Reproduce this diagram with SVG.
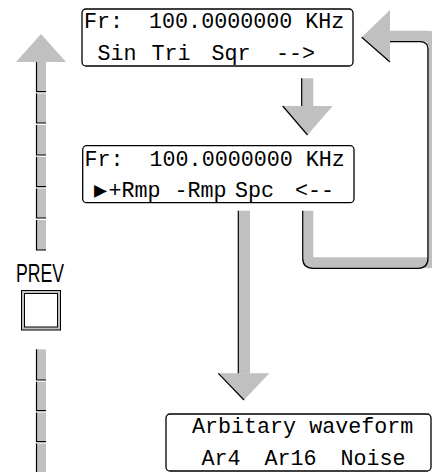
<svg xmlns="http://www.w3.org/2000/svg" width="432" height="472" viewBox="0 0 432 472">
<style>
.box{fill:#fff;stroke:#000;stroke-width:1.3}
.lcd{font-family:"Liberation Mono","DejaVu Sans Mono",monospace;font-size:21.7px;fill:#000}
.g{fill:#c0c0c0;stroke:none}
.edge{fill:none;stroke:#000;stroke-width:1.2}
.lbl{font-family:"Liberation Sans","DejaVu Sans",sans-serif;font-size:25px;fill:#000}
</style>
<rect width="432" height="472" fill="#fff"/>
<g id="connectors">
  <!-- up arrow (left) -->
  <polygon class="g" points="41,34 16,62 66,62"/>
  <g id="dashes">
    <rect class="g" x="36.5" y="62" width="9.5" height="29.7"/><path class="edge" d="M36.5,62V91.7H46"/>
    <rect class="g" x="36.5" y="93.5" width="9.5" height="29.5"/><path class="edge" d="M36.5,93.5V123H46"/>
    <rect class="g" x="36.5" y="125" width="9.5" height="30"/><path class="edge" d="M36.5,125V155H46"/>
    <rect class="g" x="36.5" y="156.8" width="9.5" height="29.9"/><path class="edge" d="M36.5,156.8V186.7H46"/>
    <rect class="g" x="36.5" y="188.5" width="9.5" height="29.5"/><path class="edge" d="M36.5,188.5V218H46"/>
    <rect class="g" x="36.5" y="220" width="9.5" height="30"/><path class="edge" d="M36.5,220V250H46"/>
    <rect class="g" x="36.5" y="349.3" width="9.5" height="30.7"/><path class="edge" d="M36.5,349.3V380H46"/>
    <rect class="g" x="36.5" y="381.8" width="9.5" height="28.9"/><path class="edge" d="M36.5,381.8V410.7H46"/>
    <rect class="g" x="36.5" y="412.5" width="9.5" height="29.2"/><path class="edge" d="M36.5,412.5V441.7H46"/>
    <rect class="g" x="36.5" y="443.5" width="9.5" height="30"/><path class="edge" d="M36.5,443.5V473"/>
  </g>
  <!-- down arrow 1 -->
  <rect class="g" x="301.7" y="78.3" width="11.6" height="28"/>
  <polygon class="g" points="282.7,106 332.7,106 307.5,135"/>
  <path class="edge" d="M301.7,78.3V106M282.7,106L307.5,135"/>
  <!-- down arrow 2 -->
  <rect class="g" x="238.3" y="210.7" width="11.7" height="163"/>
  <polygon class="g" points="218.3,373.3 269.3,373.3 244,400"/>
  <path class="edge" d="M238.3,210.7V373.3M218.3,373.3L244,400"/>
  <!-- feedback loop -->
  <path class="g" d="M302.7,210.7H313.3V257.3H427V41.7H390V30.7H428Q439,30.7 439,41.7V268.3H313Q302.7,268.3 302.7,258Z"/>
  <polygon class="g" points="361.7,37.3 390,10 390,62"/>
  <path class="edge" d="M302.7,210.7V258Q302.7,268.3 313,268.3H418Q428,268.3 428,258V49Q428,41.7 420,41.7H390M361.7,37.3L390,62"/>
</g>
<g id="lcd1">
  <rect class="box" x="82" y="9" width="271" height="57" rx="4"/>
  <text class="lcd" x="84" y="28" xml:space="preserve">Fr:  100.0000000 KHz</text>
  <text class="lcd" y="59.5"><tspan x="97.5">Sin</tspan><tspan x="151.5">Tri</tspan><tspan x="211.5">Sqr</tspan><tspan x="276">--&gt;</tspan></text>
</g>
<g id="lcd2">
  <rect class="box" x="82.7" y="145.7" width="271.3" height="57" rx="4"/>
  <text class="lcd" x="84.5" y="165.5" xml:space="preserve">Fr:  100.0000000 KHz</text>
  <text class="lcd" y="196.8"><tspan x="94">▶</tspan><tspan x="108.5">+Rmp</tspan><tspan x="174.5">-Rmp</tspan><tspan x="235">Spc</tspan><tspan x="295">&lt;--</tspan></text>
</g>
<g id="lcd3">
  <rect class="box" x="166" y="414" width="265" height="57" rx="4"/>
  <text class="lcd" x="192" y="433.3">Arbitary waveform</text>
  <text class="lcd" y="465"><tspan x="201.5">Ar4</tspan><tspan x="264.5">Ar16</tspan><tspan x="340.5">Noise</tspan></text>
</g>
<g id="prev">
  <text class="lbl" x="16" y="281.7" textLength="48" lengthAdjust="spacingAndGlyphs">PREV</text>
  <rect x="21.5" y="290.5" width="39" height="39.5" fill="#c0c0c0" stroke="#000" stroke-width="1"/>
  <rect x="24.5" y="293.5" width="33" height="33.5" fill="#fff" stroke="#000" stroke-width="1"/>
</g>
</svg>
